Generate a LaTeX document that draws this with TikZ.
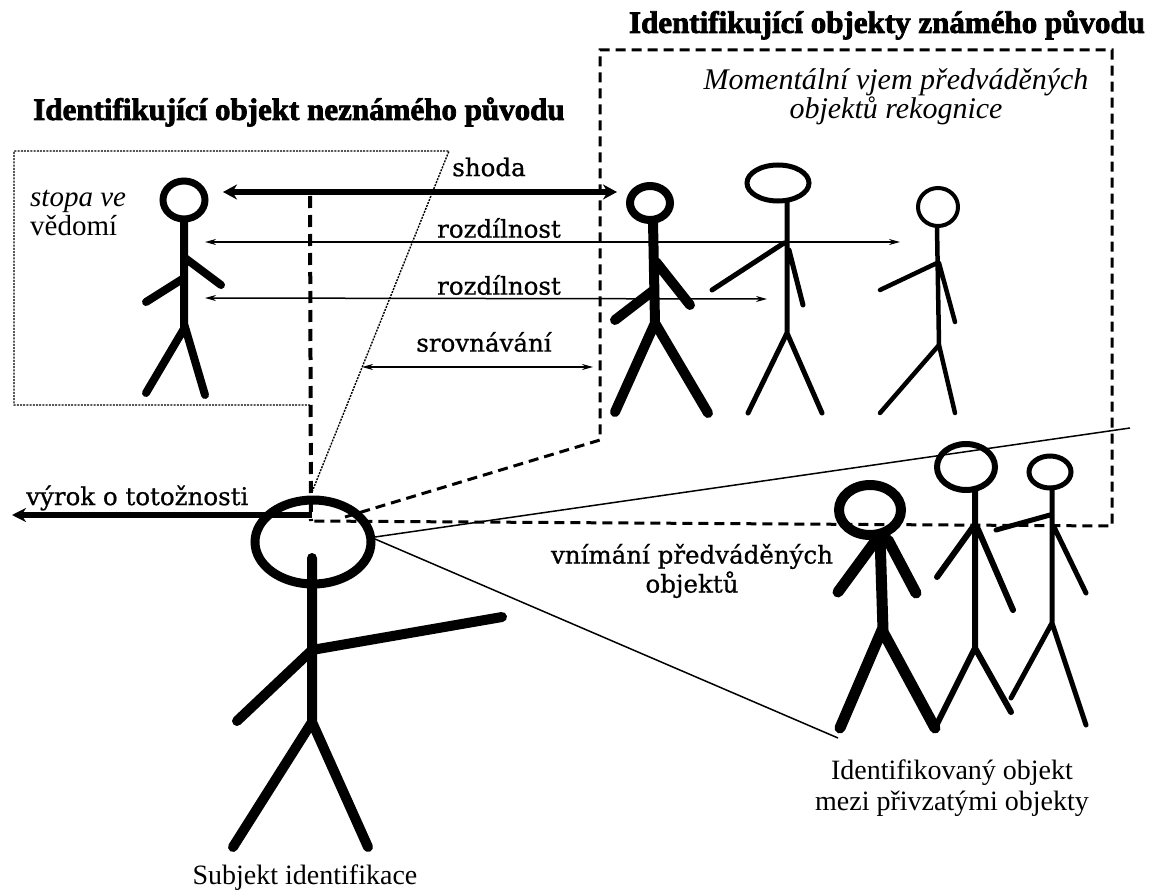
\documentclass[tikz,border=0pt]{standalone}
\usepackage{fontspec}
\setmainfont{Liberation Serif}
\newfontfamily\labfont{DejaVu Serif}[FakeBold=0.8]
\newfontfamily\titfont{Liberation Serif}[BoldFeatures={FakeBold=2.5}]
\usetikzlibrary{arrows.meta}
\begin{document}
\begin{tikzpicture}[x=1pt,y=-1pt,
  bigdash/.style={line width=3pt, dash pattern=on 10pt off 6pt},
  vdash/.style={line width=4pt, dash pattern=on 12pt off 7pt},
  dotbox/.style={line width=1.4pt, dash pattern=on 2pt off 1.2pt},
  cone/.style={line width=1.5pt},
  thickarr/.style={line width=6pt},
  thinarr/.style={line width=1.5pt, {Stealth[length=11pt,width=6pt]}-{Stealth[length=11pt,width=6pt]}},
  shodaarr/.style={line width=6pt, {Stealth[length=14pt,width=15pt]}-{Stealth[length=14pt,width=15pt]}},
  limb/.style={line width=#1, line cap=round},
  lab/.style={font=\labfont\fontsize{24.5}{29}\selectfont, inner sep=0pt},
  ttl/.style={font=\titfont\bfseries\fontsize{31}{36}\selectfont, inner sep=0pt},
  plain/.style={font=\fontsize{28}{31}\selectfont, inner sep=0pt, align=center}
]
\fill[white] (0,0) rectangle (1154,896);
\path[use as bounding box] (0,0) rectangle (1154,896);

% titles and labels
\node[ttl] (title1) at (299,112) {Identifikující objekt neznámého původu};
\node[ttl] (title2) at (887,25) {Identifikující objekty známého původu};
\node[font=\itshape\fontsize{30}{27}\selectfont, inner sep=0pt, align=center] (moment) at (896,97) {Momentální vjem předváděných\\objektů rekognice};
\node[font=\fontsize{29}{29}\selectfont, inner sep=0pt, align=left, anchor=west] (stopa) at (30,213) {\itshape stopa ve\\vědomí};
\node[lab] (lshoda) at (489,167) {shoda};
\node[lab] (lrozd1) at (499,228) {rozdílnost};
\node[lab] (lrozd2) at (499,285) {rozdílnost};
\node[lab] (lsrov) at (484,342) {srovnávání};
\node[lab, anchor=west] (lvyrok) at (26,498) {výrok o totožnosti};
\node[lab, align=center] (lvnim) at (692,571) {vnímání předváděných\\objektů};
\node[plain] (lsubj) at (305,878) {Subjekt identifikace};
\node[plain] (lident) at (952,788) {Identifikovaný objekt\\mezi přivzatými objekty};

% frames
\coordinate (conv) at (311,521);
\coordinate (bx1) at (600,440);
\coordinate (bx2) at (600,50);
\coordinate (bx3) at (1112,50);
\coordinate (bx4) at (1112,526);
\coordinate (bxd) at (345,517);
\draw[bigdash] (bxd) -- (bx1) -- (bx2) -- (bx3) -- (bx4) -- (conv);
\coordinate (vtop) at (310,196);
\draw[vdash] (vtop) -- (conv);
\coordinate (db1) at (310,405);
\coordinate (db2) at (14,405);
\coordinate (db3) at (14,151);
\coordinate (db4) at (449,151);
\coordinate (db5) at (312,492);
\draw[dotbox] (db1) -- (db2) -- (db3) -- (db4) -- (db5);

% perception cone
\coordinate (eye1) at (375,537);
\coordinate (eye2) at (375,539);
\coordinate (cone1) at (1130,428);
\coordinate (cone2) at (838,738);
\draw[cone] (eye1) -- (cone1);
\draw[cone] (eye2) -- (cone2);

% arrows
\coordinate (vyA) at (312,515);
\coordinate (vyB) at (12,515);
\draw[thickarr, -{Stealth[length=14pt,width=14pt]}] (vyA) -- (vyB);
\coordinate (shL) at (223,192);
\coordinate (shR) at (617,192);
\draw[shodaarr] (shL) -- (shR);
\coordinate (r1L) at (205,242);
\coordinate (r1R) at (900,242);
\draw[thinarr] (r1L) -- (r1R);
\coordinate (r2L) at (205,298);
\coordinate (r2R) at (767,299);
\draw[thinarr] (r2L) -- (r2R);
\coordinate (sL) at (362,367);
\coordinate (sR) at (593,367);
\draw[thinarr] (sL) -- (sR);

% figure: trace in memory
\draw[line width=7pt] (184,200) ellipse [x radius=21pt, y radius=19pt];
\draw[limb=8pt] (184,220) -- (184,327) (185,258) -- (221,285) (184,278) -- (146,302)
  (146,393) -- (185,327) -- (205,395);

% figure A (thick)
\draw[line width=8pt] (650,203) ellipse [x radius=20pt, y radius=17pt];
\draw[limb=10pt] (653,221) -- (655,323) (656,262) -- (690,305) (654,290) -- (615,320)
  (615,412) -- (655,323) -- (708,413);

% figure B
\draw[line width=5pt] (778,183) ellipse [x radius=31pt, y radius=18pt];
\draw[limb=5pt] (787,202) -- (787,333) (784,243) -- (712,290) (789,250) -- (803,305)
  (748,413) -- (787,333) -- (822,413);

% figure C
\draw[line width=4pt] (938,207) ellipse [x radius=20pt, y radius=19pt];
\draw[limb=4.5pt] (937,227) -- (939,345) (937,263) -- (880,290) (939,263) -- (955,322)
  (880,413) -- (939,345) -- (955,413);

% subject
\draw[line width=9pt] (313,542) ellipse [x radius=58pt, y radius=42pt];
\draw[limb=10pt] (312,558) -- (312,722) (312,650) -- (502,617) (310,652) -- (237,721)
  (233,847) -- (312,722) -- (368,847);

% figure D (thick, identified)
\draw[line width=10pt] (870,510) ellipse [x radius=31pt, y radius=25pt];
\draw[limb=11pt] (880,536) -- (883,630) (874,543) -- (838,592) (888,540) -- (916,593)
  (840,728) -- (882,630) -- (935,728);

% figure E
\draw[line width=6pt] (966,467) ellipse [x radius=29pt, y radius=23pt];
\draw[limb=6pt] (975,490) -- (975,648) (973,527) -- (937,577) (977,527) -- (1013,610)
  (935,728) -- (975,648) -- (1011,712);

% figure F
\draw[line width=5pt] (1050,472) ellipse [x radius=21pt, y radius=16pt];
\draw[limb=5pt] (1052,488) -- (1052,623) (1050,515) -- (996,530) (1054,527) -- (1086,593)
  (1011,698) -- (1052,623) -- (1086,725);
\end{tikzpicture}
\end{document}
